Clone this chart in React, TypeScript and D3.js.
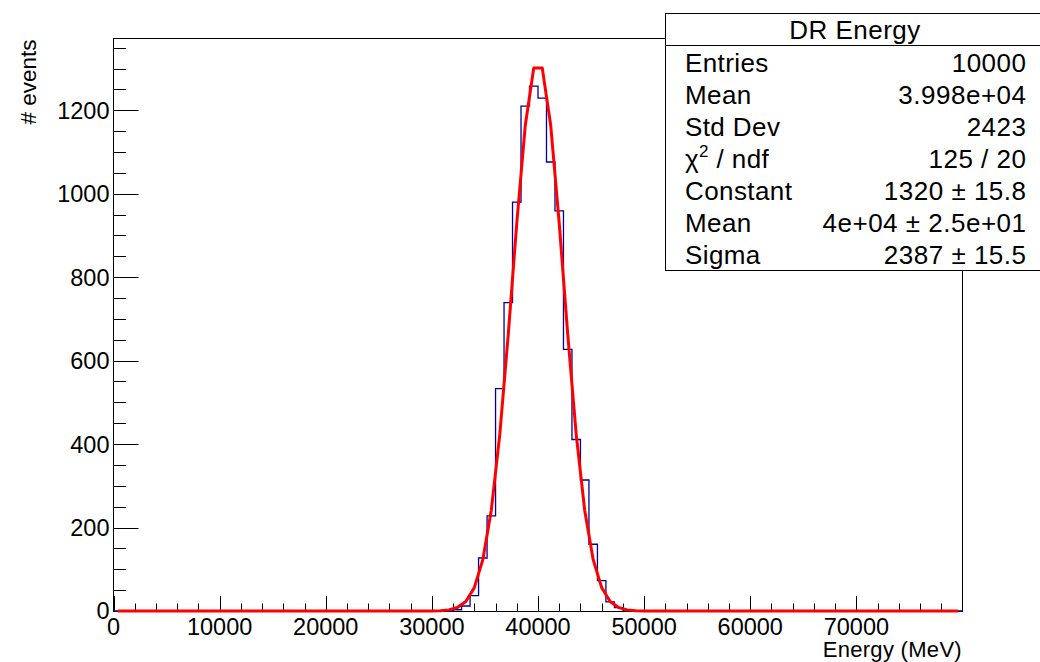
import React, { useEffect, useRef } from "react";
import * as d3 from "d3";

// histogram: 100 bins of 800 MeV over 0..80000, only the filled ones are listed
const binWidth = 800;
const nBins = 100;
const firstFilledBin = 40;
const binCounts = [
  3, 12, 37, 127, 228, 533, 739, 980, 1210, 1258, 1229, 1076, 959, 627, 411,
  314, 160, 73, 22, 8, 2,
];

// gaussian fit parameters (from the stat box)
const fitConstant = 1320;
const fitMean = 40000;
const fitSigma = 2387;

const xMajorTicks = [0, 10000, 20000, 30000, 40000, 50000, 60000, 70000];
const yMajorTicks = [0, 200, 400, 600, 800, 1000, 1200];

const statTitle = "DR Energy";
const statLabels = ["Entries", "Mean", "Std Dev", "chi2", "Constant", "Mean", "Sigma"];
const statValues = [
  "10000",
  "3.998e+04",
  "2423",
  "125 / 20",
  "1320 ± 15.8",
  "4e+04 ± 2.5e+01",
  "2387 ± 15.5",
];

const FONT = "'Liberation Sans', Arial, Helvetica, sans-serif";

const App = () => {
  const ref = useRef<SVGSVGElement>(null);

  useEffect(() => {
    const svg = d3.select(ref.current);
    svg.selectAll("*").remove();

    const width = 1040;
    const height = 662;
    const frame = { left: 113.5, right: 962.5, top: 38.5, bottom: 611 };

    svg.attr("width", width).attr("height", height);

    const x = d3.scaleLinear().domain([0, 80000]).range([frame.left, frame.right]);
    const y = d3.scaleLinear().domain([0, 1372]).range([frame.bottom, frame.top]);

    // frame
    svg
      .append("rect")
      .attr("x", frame.left)
      .attr("y", frame.top)
      .attr("width", frame.right - frame.left)
      .attr("height", frame.bottom + 0.5 - frame.top)
      .attr("fill", "none")
      .attr("stroke", "#000")
      .attr("stroke-width", 1);

    // y ticks (inward)
    const yMinor = d3.range(0, 1351, 50);
    svg
      .append("g")
      .selectAll("line")
      .data(yMinor)
      .enter()
      .append("line")
      .attr("x1", frame.left)
      .attr("x2", (d) => frame.left + (d % 200 === 0 ? 25 : 12.5))
      .attr("y1", (d) => Math.round(y(d)) + 0.5)
      .attr("y2", (d) => Math.round(y(d)) + 0.5)
      .attr("stroke", "#000");

    svg
      .append("g")
      .selectAll("text")
      .data(yMajorTicks)
      .enter()
      .append("text")
      .attr("x", 109.5)
      .attr("y", (d) => y(d))
      .attr("dy", "0.36em")
      .attr("text-anchor", "end")
      .attr("font-family", FONT)
      .attr("font-size", 23.5)
      .text((d) => d);

    // x ticks (inward)
    const xMinor = d3.range(0, 78001, 2000);
    svg
      .append("g")
      .selectAll("line")
      .data(xMinor)
      .enter()
      .append("line")
      .attr("x1", (d) => Math.round(x(d)) + 0.5)
      .attr("x2", (d) => Math.round(x(d)) + 0.5)
      .attr("y1", frame.bottom)
      .attr("y2", (d) => frame.bottom - (d % 10000 === 0 ? 15 : 7.5))
      .attr("stroke", "#000");

    svg
      .append("g")
      .selectAll("text")
      .data(xMajorTicks)
      .enter()
      .append("text")
      .attr("x", (d) => x(d))
      .attr("y", 634.5)
      .attr("text-anchor", "middle")
      .attr("font-family", FONT)
      .attr("font-size", 23.5)
      .text((d) => d);

    // axis titles
    svg
      .append("text")
      .attr("transform", `translate(36,${frame.top + 1}) rotate(-90)`)
      .attr("text-anchor", "end")
      .attr("font-family", FONT)
      .attr("font-size", 22.5)
      .text("# events");

    svg
      .append("text")
      .attr("x", 962)
      .attr("y", 657)
      .attr("text-anchor", "end")
      .attr("font-family", FONT)
      .attr("font-size", 22)
      .attr("letter-spacing", 0.3)
      .text("Energy (MeV)");

    // histogram outline
    const counts = d3.range(nBins).map((i) => binCounts[i - firstFilledBin] ?? 0);
    const steps: [number, number][] = counts.map((c, i) => [i * binWidth, c]);
    steps.push([nBins * binWidth, counts[nBins - 1]]);

    const stepLine = d3
      .line<[number, number]>()
      .x((d) => x(d[0]))
      .y((d) => y(d[1]))
      .curve(d3.curveStepAfter);

    svg
      .append("path")
      .attr("d", stepLine(steps))
      .attr("fill", "none")
      .attr("stroke", "#000099")
      .attr("stroke-width", 1.3);

    // gaussian fit, evaluated at the bin centres
    const gaus = (e: number) =>
      fitConstant * Math.exp(-0.5 * ((e - fitMean) / fitSigma) ** 2);
    const fitPts: [number, number][] = d3
      .range(nBins)
      .map((i) => [(i + 0.5) * binWidth, gaus((i + 0.5) * binWidth)]);

    svg
      .append("path")
      .attr(
        "d",
        d3
          .line<[number, number]>()
          .x((d) => x(d[0]))
          .y((d) => y(d[1]))(fitPts)
      )
      .attr("fill", "none")
      .attr("stroke", "#ff0000")
      .attr("stroke-width", 3)
      .attr("stroke-linejoin", "round");

    // stat box
    const box = { left: 665.5, top: 13.5, right: 1045, bottom: 270.5 };
    const stats = svg.append("g");
    stats
      .append("rect")
      .attr("x", box.left)
      .attr("y", box.top)
      .attr("width", box.right - box.left)
      .attr("height", box.bottom - box.top)
      .attr("fill", "#fff")
      .attr("stroke", "#000");
    stats
      .append("line")
      .attr("x1", box.left)
      .attr("x2", box.right)
      .attr("y1", 45.5)
      .attr("y2", 45.5)
      .attr("stroke", "#000");
    stats
      .append("text")
      .attr("x", 855)
      .attr("y", 39)
      .attr("text-anchor", "middle")
      .attr("font-family", FONT)
      .attr("font-size", 26)
      .attr("letter-spacing", 0.5)
      .text(statTitle);

    statLabels.forEach((label, i) => {
      const by = 72 + i * 32;
      const t = stats
        .append("text")
        .attr("x", 685)
        .attr("y", by)
        .attr("font-family", FONT)
        .attr("font-size", 26)
        .attr("letter-spacing", 0.4);
      if (label === "chi2") {
        t.append("tspan").text("χ");
        t.append("tspan").attr("dy", -11).attr("font-size", 17).text("2");
        t.append("tspan").attr("dy", 11).text(" / ndf");
      } else {
        t.text(label);
      }
      stats
        .append("text")
        .attr("x", 1026.5)
        .attr("y", by)
        .attr("text-anchor", "end")
        .attr("font-family", FONT)
        .attr("font-size", 26)
        .attr("letter-spacing", 0.5)
        .text(statValues[i]);
    });
  }, []);

  return (
    <svg
      ref={ref}
      style={{ position: "absolute", left: 0, top: 0, display: "block", background: "#fff" }}
    ></svg>
  );
};

export default App;
